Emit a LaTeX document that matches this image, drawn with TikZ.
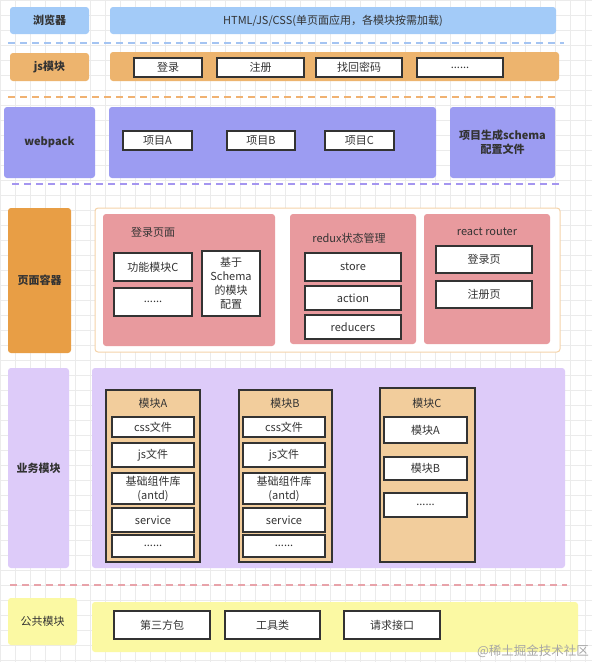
\documentclass[tikz,border=0pt]{standalone}
\usepackage{fontspec}
\setmainfont{Noto Sans CJK SC}
\definecolor{cblue}{HTML}{A3CBF8}
\definecolor{corange}{HTML}{EDB46E}
\definecolor{cpurple}{HTML}{9C9CF2}
\definecolor{cdorange}{HTML}{E89E45}
\definecolor{cpink}{HTML}{E89A9E}
\definecolor{clav}{HTML}{DDCBF9}
\definecolor{ctan}{HTML}{F2CD9C}
\definecolor{cyellow}{HTML}{FBF9A3}
\definecolor{cedge}{HTML}{333333}
\definecolor{ctext}{HTML}{333333}
\definecolor{couter}{HTML}{F5D3A9}
\definecolor{dblue}{HTML}{A4C4F2}
\definecolor{dorange}{HTML}{F0B272}
\definecolor{dpurple}{HTML}{A596F0}
\definecolor{dpink}{HTML}{E8A3AA}
\definecolor{cgrid}{HTML}{EBEBEB}
\newcommand\DBox[7][]{\node[#1, minimum width={(#5-#3)*1pt}, minimum height={(#6-#4)*1pt}] (#2) at ({(#3+#5)/2},{(#4+#6)/2}) {#7};}
\begin{document}
\begin{tikzpicture}[x=1pt,y=-1pt,
  every node/.style={text=ctext, font=\fontsize{11}{14}\selectfont, inner sep=0pt, outer sep=0pt},
  panel/.style={rounded corners=3pt},
  bold/.style={font=\fontsize{11}{14}\selectfont\bfseries},
  wbox/.style={draw=cedge, line width=1.1pt, fill=white, align=center},
  colbox/.style={draw=cedge, line width=1.1pt, fill=ctan},
  sep/.style={line width=1.4pt, dash pattern=on 7pt off 5pt}]
\useasboundingbox (0,0) rectangle (592,662);
\fill[white] (0,0) rectangle (592,662);
\draw[cgrid, line width=0.5pt, step=15pt] (0,0) grid (592,662);

% browser row
\DBox[panel,fill=cblue,bold]{b1}{10}{7}{89}{34}{浏览器}
\DBox[panel,fill=cblue]{b2}{110}{7}{556}{34}{HTML/JS/CSS(单页面应用，各模块按需加载)}
\draw[sep, dblue] (8,43) -- (564,43);

% js row
\DBox[panel,fill=corange,bold]{j1}{10}{53}{89}{81}{js模块}
\DBox[panel,fill=corange]{j2}{110}{52}{559}{81}{}
\DBox[wbox]{j3}{134}{58}{202}{77}{登录}
\DBox[wbox]{j4}{217}{58}{304}{77}{注册}
\DBox[wbox]{j5}{316}{58}{402}{77}{找回密码}
\DBox[wbox]{j6}{417}{58}{503}{77}{......}
\draw[sep, dorange] (8,97) -- (555,97);

% webpack row
\DBox[panel,fill=cpurple,bold]{w1}{4}{107}{95}{178}{webpack}
\DBox[panel,fill=cpurple]{w2}{109}{107}{436}{178}{}
\DBox[wbox]{w3}{123}{131}{192}{150}{项目A}
\DBox[wbox]{w4}{227}{131}{295}{150}{项目B}
\DBox[wbox]{w5}{325}{131}{394}{150}{项目C}
\DBox[panel,fill=cpurple,bold,align=center]{w6}{450}{107}{555}{178}{项目生成schema\\配置文件}
\draw[sep, dpurple] (12,184) -- (559,184);

% page container
\DBox[panel,fill=cdorange,bold]{p0}{8}{208}{71}{353}{页面容器}
\DBox[panel,fill=white,draw=couter,line width=1pt]{p1}{95}{208}{560}{352}{}
\DBox[panel,fill=cpink]{p2}{103}{214}{275}{346}{}
\node (p2t) at (153,232) {登录页面};
\DBox[wbox]{p3}{114}{253}{192}{281}{功能模块C}
\DBox[wbox]{p4}{114}{288}{192}{316}{......}
\DBox[wbox]{p5}{202}{251}{260}{316}{基于\\Schema\\的模块\\配置}
\DBox[panel,fill=cpink]{r1}{290}{214}{416}{344}{}
\node (r1t) at (349,238) {redux状态管理};
\DBox[wbox]{r2}{305}{253}{401}{281}{store}
\DBox[wbox]{r3}{305}{286}{401}{310}{action}
\DBox[wbox]{r4}{305}{315}{401}{339}{reducers}
\DBox[panel,fill=cpink]{q1}{424}{214}{550}{344}{}
\node (q1t) at (487,232) {react router};
\DBox[wbox]{q2}{436}{246}{532}{273}{登录页}
\DBox[wbox]{q3}{436}{281}{532}{308}{注册页}

% business modules
\DBox[panel,fill=clav,bold]{m0}{8}{368}{69}{568}{业务模块}
\DBox[panel,fill=clav]{m1}{92}{368}{565}{568}{}
\DBox[colbox]{ma}{106}{390}{200}{562}{}
\node (mat) at (153,403) {模块A};
\DBox[wbox]{ma1}{112}{417}{194}{437}{css文件}
\DBox[wbox]{ma2}{112}{443}{194}{467}{js文件}
\DBox[wbox]{ma3}{112}{473}{194}{504}{基础组件库\\(antd)}
\DBox[wbox]{ma4}{112}{508}{194}{532}{service}
\DBox[wbox]{ma5}{112}{535}{194}{557}{......}
\DBox[colbox]{mb}{239}{390}{332}{562}{}
\node (mbt) at (285,403) {模块B};
\DBox[wbox]{mb1}{243}{417}{325}{437}{css文件}
\DBox[wbox]{mb2}{243}{443}{325}{467}{js文件}
\DBox[wbox]{mb3}{243}{473}{325}{504}{基础组件库\\(antd)}
\DBox[wbox]{mb4}{243}{508}{325}{532}{service}
\DBox[wbox]{mb5}{243}{535}{325}{557}{......}
\DBox[colbox]{mc}{380}{388}{475}{562}{}
\node (mct) at (427,403) {模块C};
\DBox[wbox]{mc1}{384}{417}{467}{443}{模块A}
\DBox[wbox]{mc2}{384}{457}{467}{480}{模块B}
\DBox[wbox]{mc3}{384}{493}{467}{517}{......}
\draw[sep, dpink] (10,585) -- (567,585);

% common modules
\DBox[panel,fill=cyellow]{c0}{8}{598}{77}{645}{公共模块}
\DBox[panel,fill=cyellow]{c1}{92}{602}{578}{652}{}
\DBox[wbox]{c2}{114}{611}{210}{639}{第三方包}
\DBox[wbox]{c3}{225}{611}{320}{639}{工具类}
\DBox[wbox]{c4}{344}{611}{440}{639}{请求接口}
\node[text=black!35, font=\fontsize{12.5}{14}\selectfont] (wm) at (533,651) {@稀土掘金技术社区};
\end{tikzpicture}
\end{document}
